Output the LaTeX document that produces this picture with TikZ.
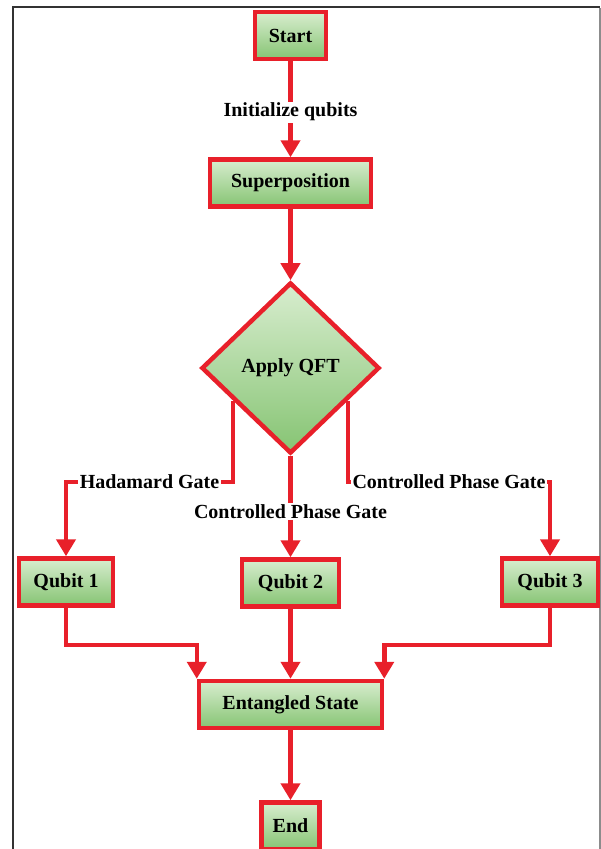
\documentclass[tikz,border=0pt]{standalone}
\usepackage{fontspec}
\setmainfont{Liberation Serif}
\usetikzlibrary{arrows.meta,shapes.geometric,calc}
\definecolor{fred}{HTML}{E8202A}
\definecolor{gtop}{HTML}{D8EDCF}
\definecolor{gbot}{HTML}{86C473}
\begin{document}
\begin{tikzpicture}[x=1pt,y=-1pt,
  txt/.style={font=\bfseries\fontsize{20}{24}\selectfont},
  box/.style={txt, draw=fred, line width=4.5pt, top color=gtop, bottom color=gbot,
              minimum height=47pt, inner sep=0pt},
  decision/.style={txt, diamond, draw=fred, line width=4.5pt, top color=gtop, bottom color=gbot,
              minimum width=178pt, minimum height=171pt, inner sep=0pt},
  arr/.style={draw=fred, line width=4.5pt, -{Triangle[width=19pt,length=17pt]}},
  lab/.style={txt, fill=white, inner sep=1.5pt}]
\useasboundingbox (0,0) rectangle (601,849);
\clip (0,0) rectangle (601,849);
% frame
\draw[line width=2pt, black!80] (13,900) -- (13,7) -- (600,7);
\draw[line width=1.5pt, black!45] (600,8) -- (600,900);
% nodes
\node[box, minimum width=71pt]  (start) at (290.5,35.5) {Start};
\node[box, minimum width=161pt] (sup)   at (290.5,183)  {Superposition};
\node[decision]                 (qft)   at (290.5,368)  {Apply QFT};
\node[box, minimum width=94pt]  (q1)    at (66,582)     {Qubit 1};
\node[box, minimum width=97pt]  (q2)    at (290.5,583)  {Qubit 2};
\node[box, minimum width=96pt]  (q3)    at (550,582)    {Qubit 3};
\node[box, minimum width=183pt] (ent)   at (290.5,704.5){Entangled State};
\node[box, minimum width=58pt]  (end)   at (290.5,826)  {End};
% helper coordinates
\coordinate (ql) at (233,401);
\coordinate (qr) at (348,401);
\coordinate (hrow) at (0,482);
\coordinate (mrow) at (0,645);
% connectors
\draw[arr] (start) -- node[lab, pos=0.53] {Initialize qubits} (sup);
\draw[arr] (sup) -- (qft);
\draw[arr] (qft) -- node[lab, pos=0.55] {Controlled Phase Gate} (q2);
\draw[arr] (ql) -- (ql |- hrow) -| node[lab, pos=0.25] {Hadamard Gate} (q1);
\draw[arr] (qr) -- (qr |- hrow) -| node[lab, pos=0.25] {Controlled Phase Gate} (q3);
\draw[arr] (q1) -- (q1.south |- mrow) -| (ent.north west);
\draw[arr] (q3) -- (q3.south |- mrow) -| (ent.north east);
\draw[arr] (q2) -- (ent);
\draw[arr] (ent) -- (end);
\end{tikzpicture}
\end{document}
